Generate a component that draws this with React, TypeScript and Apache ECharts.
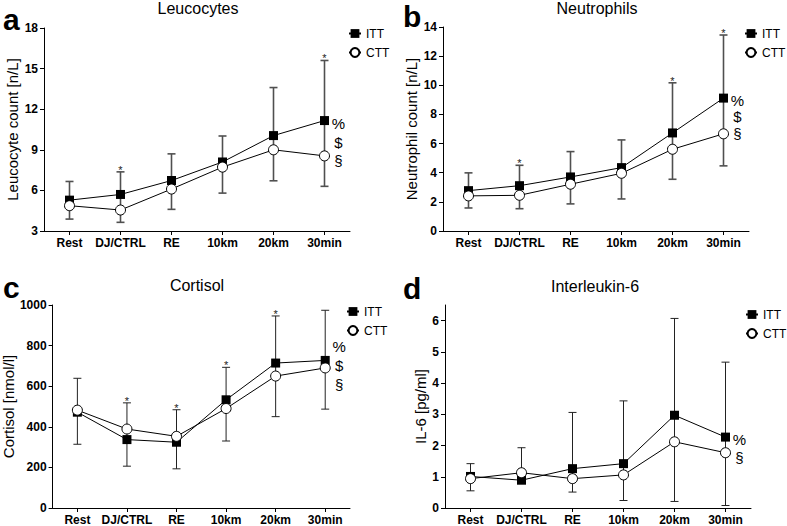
import React, { useEffect, useRef } from "react";
import * as echarts from "echarts";

const categories = ["Rest", "DJ/CTRL", "RE", "10km", "20km", "30min"];

// Leucocytes
const leucoITT = [5.28, 5.7, 6.73, 8.1, 10.05, 11.16];
const leucoCTT = [4.87, 4.55, 6.1, 7.72, 9.0, 8.55];
const leucoUpper = [6.66, 7.37, 8.7, 10.02, 13.6, 15.6];
const leucoLower = [3.88, 3.64, 4.6, 5.8, 6.71, 6.3];
const leucoStars = [false, true, false, false, false, true];
const leucoMarks = ["%", "$", "§"];

// Neutrophils
const neutroITT = [2.77, 3.11, 3.71, 4.35, 6.73, 9.12];
const neutroCTT = [2.41, 2.45, 3.21, 3.96, 5.61, 6.67];
const neutroUpper = [3.99, 4.51, 5.45, 6.25, 10.17, 13.45];
const neutroLower = [1.58, 1.53, 1.86, 2.2, 3.55, 4.47];
const neutroStars = [false, true, false, false, true, true];
const neutroMarks = ["%", "$", "§"];

// Cortisol
const cortITT = [472, 337, 324, 533, 714, 727];
const cortCTT = [482, 389, 353, 490, 650, 690];
const cortUpper = [639, 518, 484, 693, 946, 974];
const cortLower = [314, 206, 193, 330, 450, 487];
const cortStars = [false, true, true, true, true, false];
const cortMarks = ["%", "$", "§"];

// Interleukin-6
const il6ITT = [1.01, 0.89, 1.26, 1.42, 2.97, 2.27];
const il6CTT = [0.94, 1.13, 0.94, 1.06, 2.12, 1.77];
const il6Upper = [1.42, 1.93, 3.06, 3.43, 6.07, 4.67];
const il6Lower: (number | null)[] = [0.55, null, 0.51, 0.24, 0.21, 0.08];
const il6Stars = [false, false, false, false, false, false];
const il6Marks = ["%", "§"];

const il6TickValues = [0, 1, 2, 3, 4, 5, 6];

const FONT = "'Liberation Sans', Arial, Helvetica, sans-serif";

const panels = [
  {
    title: "Leucocytes", letter: "a", yName: "Leucocyte count [n/L]",
    itt: leucoITT, ctt: leucoCTT, upper: leucoUpper, lower: leucoLower as (number | null)[],
    stars: leucoStars, marks: leucoMarks,
    yMin: 3, yMax: 18, interval: 3,
    grid: { left: 44, top: 28, width: 306, height: 203 },
    nameGap: 24, titleX: 198, titleY: 8, letterX: 3, letterY: 19,
    legendLeft: 343, legendTop: 21, markDy: 3, markStep: 18.5,
    barColor: "#505050", barWidth: 1.6,
  },
  {
    title: "Neutrophils", letter: "b", yName: "Neutrophil count [n/L]",
    itt: neutroITT, ctt: neutroCTT, upper: neutroUpper, lower: neutroLower as (number | null)[],
    stars: neutroStars, marks: neutroMarks,
    yMin: 0, yMax: 14, interval: 2,
    grid: { left: 443, top: 27, width: 306, height: 204 },
    nameGap: 24, titleX: 597, titleY: 8, letterX: 403, letterY: 16,
    legendLeft: 739, legendTop: 21, markDy: 2, markStep: 16.5,
    barColor: "#505050", barWidth: 1.6,
  },
  {
    title: "Cortisol", letter: "c", yName: "Cortisol [nmol/l]",
    itt: cortITT, ctt: cortCTT, upper: cortUpper, lower: cortLower as (number | null)[],
    stars: cortStars, marks: cortMarks,
    yMin: 0, yMax: 1000, interval: 200,
    grid: { left: 44, top: 305, width: 306, height: 204 },
    nameGap: 26, titleX: 197, titleY: 285, letterX: 3, letterY: 287,
    legendLeft: 341, legendTop: 299, markDy: -14, markStep: 19,
    barColor: "#222", barWidth: 1,
  },
  {
    title: "Interleukin-6", letter: "d", yName: "IL-6 [pg/ml]",
    itt: il6ITT, ctt: il6CTT, upper: il6Upper, lower: il6Lower,
    stars: il6Stars, marks: il6Marks,
    yMin: 0, yMax: 6.5, interval: 1,
    grid: { left: 445, top: 305, width: 306, height: 204 },
    nameGap: 17, titleX: 595, titleY: 286, letterX: 403, letterY: 288,
    legendLeft: 740, legendTop: 302, markDy: 2, markStep: 18,
    barColor: "#222", barWidth: 1,
  },
];

function buildOption() {
  const grids: any[] = [];
  const xAxes: any[] = [];
  const yAxes: any[] = [];
  const series: any[] = [];
  const legends: any[] = [];
  const graphics: any[] = [];

  panels.forEach((p, k) => {
    grids.push({ ...p.grid, containLabel: false });
    xAxes.push({
      gridIndex: k,
      type: "category",
      data: categories,
      boundaryGap: true,
      axisLine: { show: true, lineStyle: { color: "#000", width: 1 } },
      axisTick: { show: true, alignWithLabel: true, length: 4, lineStyle: { color: "#000" } },
      axisLabel: { interval: 0, color: "#000", fontWeight: "bold", fontSize: 12, fontFamily: FONT, margin: 6 },
      splitLine: { show: false },
    });
    const yAxis: any = {
      gridIndex: k,
      type: "value",
      min: p.yMin,
      max: p.yMax,
      interval: p.interval,
      axisLine: { show: true, lineStyle: { color: "#000", width: 1 } },
      axisTick: { show: true, length: 4, lineStyle: { color: "#000" } },
      axisLabel: {
        color: "#000", fontWeight: "bold", fontSize: 12, fontFamily: FONT, margin: 6,
        formatter: (v: number) => String(v),
      },
      splitLine: { show: false },
      name: p.yName,
      nameLocation: "middle",
      nameGap: p.nameGap,
      nameTextStyle: { fontSize: 15, color: "#000", fontFamily: FONT },
    };
    if (k === 3) {
      yAxis.axisTick.customValues = il6TickValues;
      yAxis.axisLabel.customValues = il6TickValues;
    }
    yAxes.push(yAxis);

    // error bars + stars
    series.push({
      name: "err-" + p.letter,
      type: "custom",
      xAxisIndex: k,
      yAxisIndex: k,
      z: 1,
      silent: true,
      data: categories.map((_, i) => [i, p.upper[i]]),
      renderItem: (params: any, api: any) => {
        const i = params.dataIndex;
        const up = p.upper[i];
        const lo = p.lower[i];
        const loVal = lo == null ? Math.min(p.itt[i], p.ctt[i]) : lo;
        const pt = api.coord([i, up]);
        const pb = api.coord([i, loVal]);
        const cap = 4;
        const st = { stroke: p.barColor, lineWidth: p.barWidth };
        const children: any[] = [
          { type: "line", shape: { x1: pt[0], y1: pt[1], x2: pb[0], y2: pb[1] }, style: st },
          { type: "line", shape: { x1: pt[0] - cap, y1: pt[1], x2: pt[0] + cap, y2: pt[1] }, style: st },
        ];
        if (lo != null) {
          children.push({ type: "line", shape: { x1: pb[0] - cap, y1: pb[1], x2: pb[0] + cap, y2: pb[1] }, style: st });
        }
        if (p.stars[i]) {
          children.push({
            type: "text",
            x: pt[0],
            y: pt[1] - 2,
            style: { text: "*", fill: "#222", fontSize: 11, fontFamily: FONT, align: "center", verticalAlign: "middle" },
          });
        }
        return { type: "group", children };
      },
    });

    series.push({
      name: "ITT",
      type: "line",
      xAxisIndex: k,
      yAxisIndex: k,
      z: 3,
      data: p.itt,
      symbol: "rect",
      symbolSize: 9,
      itemStyle: { color: "#000" },
      lineStyle: { color: "#000", width: 1 },
      emphasis: { disabled: true },
    });
    series.push({
      name: "CTT",
      type: "line",
      xAxisIndex: k,
      yAxisIndex: k,
      z: 4,
      data: p.ctt,
      symbol: "circle",
      symbolSize: 10,
      showAllSymbol: true,
      itemStyle: { color: "#fff", borderColor: "#000", borderWidth: 1 },
      lineStyle: { color: "#000", width: 1 },
      emphasis: { disabled: true },
    });

    // significance marks next to the last point
    series.push({
      name: "marks-" + p.letter,
      type: "custom",
      xAxisIndex: k,
      yAxisIndex: k,
      z: 5,
      silent: true,
      data: [[5, p.itt[5]]],
      renderItem: (params: any, api: any) => {
        const pos = api.coord([5, p.itt[5]]);
        return {
          type: "group",
          children: p.marks.map((m, j) => ({
            type: "text",
            x: pos[0] + 14,
            y: pos[1] + p.markDy + j * p.markStep,
            style: { text: m, fill: "#000", fontSize: 15, fontFamily: FONT, align: "center", verticalAlign: "middle" },
          })),
        };
      },
    });

    legends.push({
      data: ["ITT", "CTT"],
      orient: "vertical",
      left: p.legendLeft,
      top: p.legendTop,
      itemWidth: 12,
      itemHeight: 11,
      itemGap: 4,
      selectedMode: false,
      textStyle: { fontSize: 12, color: "#000", fontFamily: FONT, lineHeight: 15 },
    });

    graphics.push({
      type: "text",
      x: p.titleX,
      y: p.titleY,
      style: { text: p.title, fill: "#000", fontSize: 16, fontFamily: FONT, align: "center", verticalAlign: "middle" },
    });
    graphics.push({
      type: "text",
      x: p.letterX,
      y: p.letterY,
      style: { text: p.letter, fill: "#000", fontSize: 30, fontWeight: "bold", fontFamily: FONT, align: "left", verticalAlign: "middle" },
    });
  });

  return {
    animation: false,
    backgroundColor: "#fff",
    grid: grids,
    xAxis: xAxes,
    yAxis: yAxes,
    legend: legends,
    series,
    graphic: graphics,
  };
}

export default function App() {
  const ref = useRef<HTMLDivElement>(null);
  useEffect(() => {
    if (!ref.current) return;
    const chart = echarts.init(ref.current, undefined, { renderer: "svg" });
    chart.setOption(buildOption() as any);
    return () => chart.dispose();
  }, []);
  return (
    <div
      ref={ref}
      style={{ position: "absolute", left: 0, top: 0, width: 787, height: 526, background: "#fff" }}
    />
  );
}
